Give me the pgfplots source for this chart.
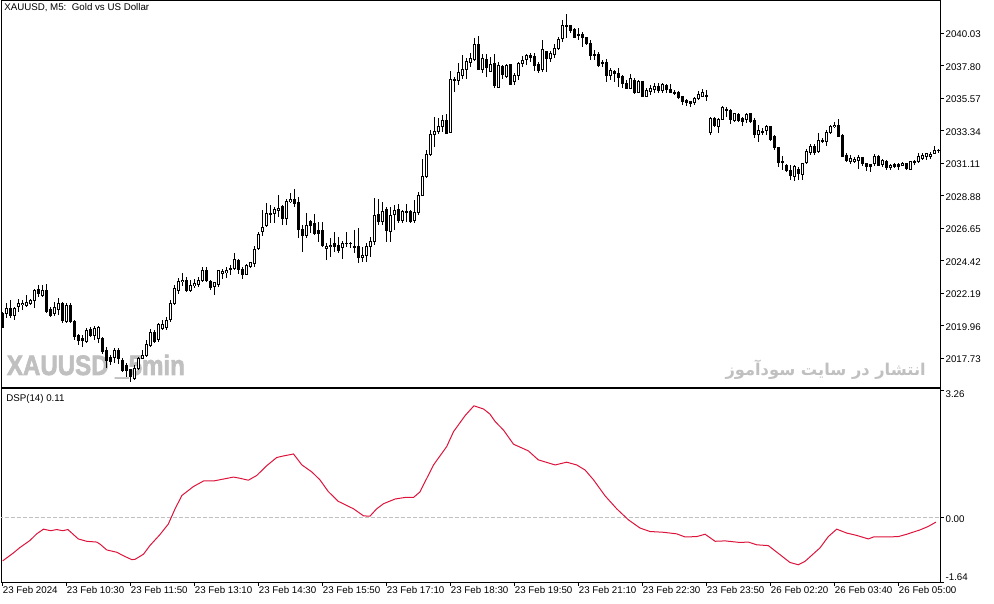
\documentclass[border=0pt]{standalone}
\usepackage{fontspec}
\setmainfont{Liberation Sans}
\newfontfamily\fafont[Script=Arabic]{DejaVu Sans}
\newfontfamily\wmfont{Liberation Sans Bold}[FakeBold=2.5]
\usepackage{graphicx}
\usepackage{pgfplots}
\usepackage{pgfplotstable}
\pgfplotsset{compat=1.18}
\TeXXeTstate=1
\definecolor{dsp}{RGB}{220,20,60}
\definecolor{wm}{RGB}{192,192,192}
\definecolor{zl}{RGB}{192,192,192}

\pgfplotstableread{
i o h l c
0 2020.82 2020.93 2019.79 2019.86
1 2020.82 2021.50 2020.47 2021.16
2 2021.16 2021.73 2020.47 2020.70
3 2020.70 2021.27 2020.36 2021.16
4 2021.27 2021.78 2020.93 2021.50
5 2021.39 2021.73 2021.05 2021.50
6 2021.37 2022.07 2021.27 2021.55
7 2021.50 2021.78 2021.39 2021.66
8 2021.73 2022.46 2021.16 2022.42
9 2022.42 2022.76 2021.96 2022.14
10 2022.07 2022.76 2021.96 2022.42
11 2022.37 2022.83 2020.86 2020.93
12 2021.05 2021.27 2020.59 2020.70
13 2020.77 2021.62 2020.63 2021.23
14 2021.09 2021.85 2020.70 2021.50
15 2021.50 2021.62 2020.18 2020.36
16 2020.25 2021.50 2020.13 2021.39
17 2021.39 2021.50 2020.13 2020.25
18 2020.25 2020.36 2018.99 2019.22
19 2019.33 2019.44 2018.64 2018.99
20 2019.10 2019.33 2018.53 2018.94
21 2018.87 2019.79 2018.80 2019.67
22 2019.72 2019.86 2019.22 2019.33
23 2019.33 2019.95 2018.99 2019.79
24 2019.10 2019.95 2018.76 2019.86
25 2019.10 2019.22 2018.07 2018.19
26 2018.30 2018.53 2017.04 2017.57
27 2017.80 2017.96 2017.27 2017.50
28 2017.80 2018.42 2017.39 2018.26
29 2018.26 2018.42 2017.34 2017.73
30 2017.61 2017.73 2016.81 2016.93
31 2017.27 2017.39 2016.47 2016.93
32 2016.93 2017.04 2016.13 2016.47
33 2016.36 2017.27 2016.24 2017.04
34 2017.04 2017.84 2016.93 2017.73
35 2017.73 2018.30 2017.66 2017.96
36 2017.96 2018.99 2017.84 2018.71
37 2018.64 2019.72 2018.53 2019.49
38 2019.49 2019.67 2018.76 2018.87
39 2018.99 2020.18 2018.87 2020.02
40 2019.79 2020.36 2019.67 2020.02
41 2019.86 2020.59 2019.67 2020.36
42 2020.36 2021.73 2020.22 2021.52
43 2021.50 2022.76 2021.38 2022.53
44 2022.41 2023.28 2022.18 2022.98
45 2022.98 2023.56 2022.69 2023.10
46 2023.10 2023.33 2022.30 2022.37
47 2022.37 2023.14 2022.30 2022.73
48 2022.71 2023.14 2022.53 2022.87
49 2022.82 2023.33 2022.64 2023.10
50 2023.05 2023.97 2022.98 2023.74
51 2023.79 2023.97 2022.98 2023.10
52 2022.98 2023.10 2022.41 2022.60
53 2022.64 2022.98 2022.07 2022.92
54 2022.82 2023.79 2022.64 2023.74
55 2023.58 2023.90 2023.21 2023.72
56 2023.60 2023.97 2023.21 2023.79
57 2023.86 2024.13 2023.44 2023.90
58 2023.90 2024.93 2023.79 2024.47
59 2024.47 2024.59 2023.56 2023.83
60 2023.83 2024.01 2023.14 2023.51
61 2023.46 2024.24 2023.42 2024.11
62 2024.06 2024.36 2023.92 2024.29
63 2024.24 2025.43 2024.01 2025.20
64 2025.27 2026.41 2025.16 2026.26
65 2026.41 2027.90 2026.12 2026.69
66 2026.87 2028.41 2026.76 2027.67
67 2027.63 2028.25 2027.03 2027.67
68 2027.67 2028.13 2027.03 2027.95
69 2027.86 2028.93 2027.44 2028.02
70 2028.13 2028.25 2026.87 2027.33
71 2027.33 2028.70 2026.87 2028.47
72 2028.47 2029.05 2028.36 2028.63
73 2028.63 2029.32 2028.13 2028.36
74 2028.41 2028.82 2025.96 2026.58
75 2026.58 2026.87 2025.04 2026.19
76 2026.19 2027.67 2025.96 2026.87
77 2027.10 2027.22 2026.30 2026.87
78 2026.99 2027.67 2026.19 2026.30
79 2026.53 2027.10 2025.73 2026.30
80 2026.53 2027.10 2025.39 2025.50
81 2025.27 2025.61 2024.47 2025.43
82 2025.43 2025.96 2024.70 2025.50
83 2025.57 2026.41 2025.04 2025.43
84 2025.50 2026.07 2024.97 2025.11
85 2025.34 2025.80 2024.58 2025.61
86 2025.61 2026.41 2025.38 2025.64
87 2025.64 2025.73 2025.27 2025.61
88 2025.43 2026.53 2024.93 2025.34
89 2025.43 2026.64 2024.24 2024.63
90 2024.63 2025.38 2024.36 2024.81
91 2024.81 2025.61 2024.36 2025.43
92 2025.43 2026.07 2024.70 2025.73
93 2025.73 2028.70 2025.50 2027.56
94 2027.56 2028.70 2026.87 2027.10
95 2027.10 2028.47 2026.87 2027.83
96 2027.95 2028.13 2025.73 2026.48
97 2026.41 2028.13 2025.73 2027.56
98 2027.56 2028.24 2026.53 2027.83
99 2027.95 2028.31 2026.99 2027.17
100 2027.17 2027.90 2026.99 2027.79
101 2027.79 2028.31 2027.10 2027.72
102 2027.79 2027.90 2026.99 2027.10
103 2027.17 2028.63 2026.99 2027.72
104 2027.72 2029.16 2027.56 2028.93
105 2028.93 2031.44 2028.86 2030.23
106 2030.19 2032.02 2030.07 2031.74
107 2031.74 2033.39 2031.61 2033.11
108 2033.11 2034.26 2032.25 2033.27
109 2033.27 2034.19 2033.11 2033.66
110 2033.62 2034.42 2033.27 2034.07
111 2034.07 2034.53 2033.11 2033.16
112 2033.21 2037.46 2033.16 2036.87
113 2036.87 2037.05 2036.02 2036.82
114 2036.82 2037.96 2036.48 2037.32
115 2037.16 2038.53 2036.93 2037.55
116 2037.55 2038.31 2036.87 2038.08
117 2038.03 2038.65 2037.73 2038.31
118 2038.24 2039.68 2038.15 2039.29
119 2039.29 2039.84 2037.51 2037.55
120 2037.51 2038.59 2037.28 2038.27
121 2038.27 2038.59 2037.05 2037.67
122 2037.44 2038.43 2037.40 2037.90
123 2037.97 2038.59 2036.30 2036.48
124 2036.30 2038.08 2036.25 2037.81
125 2037.74 2037.85 2036.89 2037.17
126 2037.05 2037.90 2036.94 2037.81
127 2037.85 2037.90 2036.48 2036.53
128 2036.71 2037.28 2036.48 2037.17
129 2037.12 2038.08 2036.82 2037.97
130 2037.97 2038.49 2037.74 2038.20
131 2038.20 2038.59 2037.85 2038.49
132 2038.54 2038.65 2038.08 2038.36
133 2038.43 2038.65 2037.44 2037.85
134 2037.90 2038.08 2037.28 2037.51
135 2037.58 2039.57 2037.40 2038.95
136 2038.77 2038.81 2037.40 2038.31
137 2038.31 2038.81 2038.08 2038.65
138 2038.59 2039.27 2038.31 2039.00
139 2039.00 2039.80 2038.88 2039.57
140 2039.68 2040.94 2039.45 2040.55
141 2040.55 2041.33 2039.68 2040.53
142 2040.53 2040.60 2040.03 2040.19
143 2040.26 2040.41 2039.68 2039.73
144 2039.96 2040.37 2039.57 2039.87
145 2039.96 2040.14 2039.11 2039.73
146 2039.73 2039.80 2039.23 2039.34
147 2039.34 2039.57 2038.20 2038.49
148 2038.59 2038.88 2038.20 2038.54
149 2038.59 2038.77 2037.74 2037.85
150 2038.04 2038.20 2037.74 2037.95
151 2038.04 2038.27 2036.71 2037.12
152 2037.12 2037.62 2036.82 2037.44
153 2037.44 2037.51 2036.71 2037.28
154 2037.28 2037.62 2036.37 2036.98
155 2037.05 2037.17 2036.25 2036.60
156 2036.60 2036.82 2036.21 2036.25
157 2036.25 2037.21 2036.21 2036.94
158 2036.82 2036.94 2035.84 2035.98
159 2035.95 2036.82 2035.91 2036.71
160 2036.71 2036.75 2035.63 2035.68
161 2035.68 2036.25 2035.63 2036.09
162 2036.02 2036.48 2035.79 2036.25
163 2036.14 2036.64 2035.91 2036.37
164 2036.37 2036.60 2035.91 2036.09
165 2036.14 2036.64 2035.91 2036.55
166 2036.48 2036.55 2035.91 2036.18
167 2036.21 2036.55 2035.91 2035.95
168 2035.95 2036.14 2035.79 2035.93
169 2036.00 2036.09 2035.50 2035.63
170 2035.68 2035.70 2035.11 2035.34
171 2035.41 2035.50 2035.04 2035.27
172 2035.34 2035.41 2034.95 2035.22
173 2035.31 2035.68 2035.11 2035.57
174 2035.57 2036.09 2035.45 2035.86
175 2035.73 2036.18 2035.63 2035.95
176 2035.79 2036.18 2035.41 2035.73
177 2033.21 2034.31 2033.05 2034.19
178 2034.19 2034.31 2033.58 2033.74
179 2033.62 2034.19 2033.21 2034.13
180 2034.13 2035.04 2034.08 2034.95
181 2034.81 2034.95 2034.31 2034.77
182 2034.77 2034.81 2033.81 2034.13
183 2034.03 2034.58 2033.97 2034.54
184 2034.49 2034.54 2033.97 2034.08
185 2034.19 2034.31 2033.67 2033.97
186 2034.13 2034.58 2033.90 2034.49
187 2034.49 2034.58 2033.90 2033.97
188 2034.03 2034.19 2032.82 2033.05
189 2033.12 2033.74 2032.59 2033.35
190 2033.33 2033.51 2033.05 2033.21
191 2033.35 2033.74 2033.05 2033.62
192 2033.62 2033.67 2032.66 2032.75
193 2032.94 2033.05 2032.02 2032.20
194 2032.20 2032.25 2030.88 2031.15
195 2031.22 2031.61 2030.65 2031.15
196 2030.99 2031.11 2030.53 2030.65
197 2030.65 2030.99 2029.96 2030.24
198 2030.24 2030.99 2029.92 2030.88
199 2030.69 2030.88 2029.96 2030.42
200 2030.37 2031.15 2029.96 2031.10
201 2031.15 2032.06 2031.06 2031.90
202 2031.83 2032.47 2031.67 2032.24
203 2032.24 2032.47 2031.67 2031.83
204 2031.90 2033.16 2031.83 2032.66
205 2032.66 2032.88 2032.47 2032.64
206 2032.59 2033.43 2032.29 2033.20
207 2033.20 2033.73 2033.11 2033.62
208 2033.62 2033.96 2033.57 2033.73
209 2033.73 2034.12 2032.93 2032.98
210 2032.98 2033.11 2031.56 2031.60
211 2031.67 2031.79 2031.22 2031.33
212 2031.22 2031.67 2031.10 2031.44
213 2031.22 2031.56 2031.10 2031.38
214 2031.28 2031.67 2030.76 2031.51
215 2031.51 2031.56 2030.92 2031.10
216 2031.10 2031.15 2030.60 2030.87
217 2031.06 2031.10 2030.53 2030.87
218 2031.06 2031.74 2030.92 2031.60
219 2031.60 2031.67 2030.92 2030.99
220 2031.06 2031.38 2030.83 2031.28
221 2031.22 2031.33 2030.69 2030.83
222 2030.83 2031.10 2030.69 2030.99
223 2030.99 2031.10 2030.76 2030.87
224 2030.99 2031.15 2030.69 2030.87
225 2030.99 2031.22 2030.92 2031.10
226 2031.10 2031.15 2030.64 2030.76
227 2030.69 2031.28 2030.64 2031.22
228 2031.22 2031.33 2030.99 2031.24
229 2031.22 2031.83 2031.15 2031.56
230 2031.44 2031.79 2031.33 2031.67
231 2031.56 2031.83 2031.33 2031.79
232 2031.60 2031.90 2031.44 2031.74
233 2031.79 2032.29 2031.74 2032.02
234 2032.02 2032.13 2031.83 2032.00
}\candles

\pgfplotsset{
  mtstyle/.style={
    scale only axis, width=704.25pt,
    xmin=-0.425, xmax=234.325,
    axis line style={line width=0.75pt},
    every tick/.style={black, line width=0.75pt},
    tick align=outside, major tick length=3pt,
    ytick pos=right, yticklabel pos=right,
    tick label style={font=\fontsize{7.3}{8}\selectfont},
    yticklabel style={anchor=west, inner sep=0pt, xshift=1pt},
  }
}

\begin{document}
\begin{tikzpicture}
\useasboundingbox (0,0) rectangle (745.5pt,452.25pt);
% watermarks
\node[anchor=base west, inner sep=0pt, text=wm, font=\wmfont\fontsize{21}{21}\selectfont] at (5pt,171pt) {\scalebox{0.86}[1]{XAUUSD \_5min}};
\node[anchor=base east, inner sep=0pt, text=wm, font=\fafont\bfseries\fontsize{12.2}{12.2}\selectfont] at (694.5pt,170.25pt) {\beginR انتشار در سایت سودآموز\endR};

\begin{axis}[mtstyle,
  at={(0.75pt,451.5pt)}, anchor=north west, height=289.5pt,
  ymin=2015.76, ymax=2042.24,
  xtick=\empty,
  ytick={2017.73,2019.96,2022.19,2024.42,2026.65,2028.88,2031.11,2033.34,2035.57,2037.80,2040.03},
  yticklabels={2017.73,2019.96,2022.19,2024.42,2026.65,2028.88,2031.11,2033.34,2035.57,2037.80,2040.03},
  yticklabel style={yshift=-0.75pt},
]
% wicks
\addplot [draw=none, mark=none, forget plot,
  error bars/.cd, y dir=both, y explicit, error mark=none,
  error bar style={draw=black, line width=0.75pt}]
  table [x=i, y expr={(\thisrow{h}+\thisrow{l})/2}, y error expr={(\thisrow{h}-\thisrow{l})/2}] {\candles};
% bodies
\addplot [draw=none, mark=none, forget plot,
  error bars/.cd, y dir=both, y explicit, error mark=none,
  error bar style={draw=black, line width=2.25pt}]
  table [x=i, y expr={(\thisrow{o}+\thisrow{c})/2}, y error expr={abs(\thisrow{o}-\thisrow{c})/2+0.0343}] {\candles};
% hollow (bull) interiors
\addplot [draw=none, mark=none, forget plot,
  error bars/.cd, y dir=both, y explicit, error mark=none,
  error bar style={draw=white, line width=0.75pt}]
  table [x=i, y expr={(\thisrow{o}+\thisrow{c})/2}, y error expr={max(0,(\thisrow{c}-\thisrow{o})/2-0.0343)}] {\candles};
\end{axis}

\node[anchor=west, inner sep=0pt, font=\fontsize{7.3}{8}\selectfont] at (3pt,446.6pt) {XAUUSD, M5:\ \ Gold vs US Dollar};

\begin{axis}[mtstyle,
  at={(0.75pt,160.5pt)}, anchor=north west, height=144.75pt,
  ymin=-1.64, ymax=3.29,
  xtick={0,16,32,48,64,80,96,112,128,144,160,176,192,208,224},
  xticklabels={23 Feb 2024,23 Feb 10:30,23 Feb 11:50,23 Feb 13:10,23 Feb 14:30,23 Feb 15:50,23 Feb 17:10,23 Feb 18:30,23 Feb 19:50,23 Feb 21:10,23 Feb 22:30,23 Feb 23:50,26 Feb 02:20,26 Feb 03:40,26 Feb 05:00},
  xtick pos=bottom,
  xticklabel style={anchor=north west, inner sep=0pt},
  ytick={-1.64,0,3.26},
  yticklabels={\raisebox{1.1pt}[0pt][0pt]{-1.64},\raisebox{-3.4pt}[0pt][0pt]{0.00},\raisebox{-5.6pt}[0pt][0pt]{3.26}},
]
\addplot [zl, line width=0.75pt, dash pattern=on 3pt off 1.5pt, forget plot] coordinates {(-1,0) (240,0)};
\addplot [dsp, line width=0.75pt, mark=none] coordinates {
(0,-1.10) (2.65,-0.90) (4.3,-0.76) (6.8,-0.58) (8.5,-0.41) (10.2,-0.29) (12,-0.33) (13.5,-0.30) (15,-0.33) (16.3,-0.30)
(18.9,-0.54) (21,-0.60) (23.5,-0.62) (24.3,-0.67) (26,-0.82) (28.5,-0.88) (30.6,-0.99) (32.3,-1.07) (33.1,-1.06) (35.2,-0.93)
(36.8,-0.71) (39.3,-0.43) (41.4,-0.16) (43.1,0.23) (44.8,0.57) (47.7,0.80) (50.2,0.94) (52.7,0.94) (55.2,0.99) (57.7,1.04)
(59.3,1.01) (61.4,0.96) (63.5,1.08) (66,1.33) (68.5,1.54) (70.2,1.58) (72.7,1.63) (74.8,1.35) (77.3,1.17) (79.3,0.97)
(81.4,0.67) (83.9,0.42) (87.7,0.23) (90.2,0.05) (91.8,0.04) (93.5,0.23) (95.2,0.36) (98.1,0.48) (100.6,0.52) (102.7,0.52)
(104.3,0.66) (107.7,1.35) (111,1.82) (112.7,2.20) (115.6,2.61) (117.8,2.86) (120.2,2.78) (121.8,2.65) (123.1,2.46) (125.2,2.24)
(127.7,1.88) (131.4,1.71) (133.9,1.48) (138.1,1.35) (141,1.42) (143.5,1.35) (145.6,1.22) (147.7,0.97) (150.6,0.56) (153.5,0.23)
(156.4,-0.05) (159.3,-0.26) (161.8,-0.35) (165.2,-0.37) (168.5,-0.41) (170.6,-0.49) (173.5,-0.48) (175.6,-0.42) (178.1,-0.60) (180.6,-0.59)
(184.3,-0.63) (186.4,-0.62) (188.5,-0.69) (191.4,-0.71) (194.3,-0.94) (196.8,-1.14) (198.9,-1.20) (200.6,-1.11) (204.3,-0.77) (206.4,-0.48)
(208.5,-0.29) (211,-0.39) (213.5,-0.45) (216.4,-0.54) (217.7,-0.49) (221,-0.49) (223.9,-0.48) (226,-0.42) (229.3,-0.31) (231.4,-0.22)
(233.3,-0.11)
};
\end{axis}

\node[anchor=west, inner sep=0pt, font=\fontsize{7.3}{8}\selectfont] at (4.5pt,153pt) {DSP(14) 0.11};
\end{tikzpicture}
\end{document}
